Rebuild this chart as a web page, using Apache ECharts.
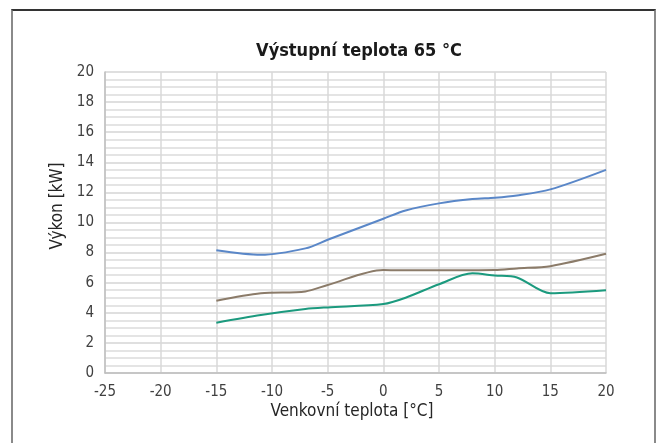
<!DOCTYPE html>
<html>
<head>
<meta charset="utf-8">
<script src="https://cdn.jsdelivr.net/npm/echarts@6/dist/echarts.min.js"></script>
<style>
  html, body { margin: 0; padding: 0; background: #fff; }
  #frame {
    position: absolute; left: 11px; top: 9px; width: 641px; height: 460px;
    border-left: 2px solid #8a8a8a; border-right: 2px solid #8a8a8a; border-top: 2px solid #333;
  }
  #chart { position: absolute; left: 0; top: 0; width: 660px; height: 443px; }
</style>
</head>
<body>
<div id="frame"></div>
<div id="chart"></div>
<script>
// outdoor temperature points [°C]
const temps = [-15, -11, -7, -5, 0, 2, 5, 8, 10, 12, 15, 20]
// output power [kW]
const blueVals = [8.15, 7.85, 8.28, 8.85, 10.25, 10.8, 11.27, 11.56, 11.65, 11.8, 12.2, 13.5]
const brownVals = [4.8, 5.3, 5.42, 5.85, 6.85, 6.82, 6.82, 6.83, 6.84, 6.95, 7.1, 7.92]
const greenVals = [3.34, 3.85, 4.25, 4.36, 4.58, 5.0, 5.9, 6.62, 6.48, 6.35, 5.3, 5.5]

const titleText = 'Výstupní teplota 65 °C'
const xName = 'Venkovní teplota [°C]'
const yName = 'Výkon [kW]'

const font = '"Liberation Sans Narrow", "DejaVu Sans Condensed", "Roboto", sans-serif'

const pairs = (vals) => temps.map((t, i) => [t, vals[i]])

const chart = echarts.init(document.getElementById('chart'))

const lineSeries = (vals, color) => ({
  type: 'line',
  data: pairs(vals),
  smooth: 0.3,
  showSymbol: false,
  lineStyle: { color: color, width: 2 },
  itemStyle: { color: color }
})

chart.setOption({
  backgroundColor: 'transparent',
  animation: false,
  title: {
    text: titleText,
    left: 354,
    top: 37,
    textAlign: 'center',
    textStyle: { fontFamily: font, fontSize: 18, fontWeight: 'bold', color: '#1a1a1a' }
  },
  grid: { left: 105, right: 54, top: 72, bottom: 70 },
  xAxis: {
    type: 'value',
    min: -25,
    max: 20,
    interval: 5,
    axisLine: { show: true, onZero: false, lineStyle: { color: '#bfbfbf', width: 1.5 } },
    axisTick: { show: false },
    axisLabel: { fontFamily: font, fontSize: 15, color: '#404040', margin: 12 },
    splitLine: { show: true, lineStyle: { color: '#d9d9d9', width: 1.5 } }
  },
  yAxis: {
    type: 'value',
    min: 0,
    max: 20,
    interval: 2,
    axisLine: { show: true, onZero: false, lineStyle: { color: '#bfbfbf', width: 1.5 } },
    axisTick: { show: false },
    axisLabel: { fontFamily: font, fontSize: 15, color: '#404040', margin: 11 },
    splitLine: { show: true, lineStyle: { color: '#d4d4d4', width: 1.5 } },
    minorTick: { show: false, splitNumber: 4 },
    minorSplitLine: { show: true, lineStyle: { color: '#dcdcdc', width: 1.5 } }
  },
  graphic: [
    {
      type: 'text',
      x: 352,
      y: 412,
      style: { text: xName, font: '17px ' + font, fill: '#262626', textAlign: 'center', textVerticalAlign: 'middle' }
    },
    {
      type: 'text',
      x: 58,
      y: 206,
      rotation: Math.PI / 2,
      style: { text: yName, font: '17px ' + font, fill: '#262626', textAlign: 'center', textVerticalAlign: 'middle' }
    }
  ],
  series: [
    lineSeries(blueVals, '#5a87c8'),
    lineSeries(brownVals, '#8b7b69'),
    lineSeries(greenVals, '#1b9a7e')
  ]
})
</script>
</body>
</html>
